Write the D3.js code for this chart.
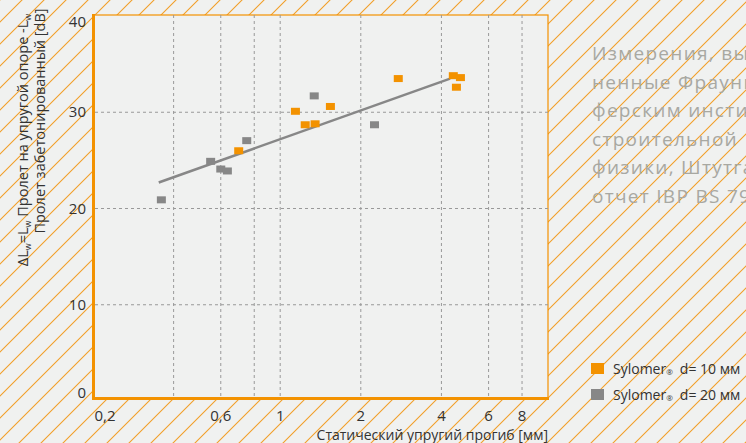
<!DOCTYPE html>
<html>
<head>
<meta charset="utf-8">
<script src="https://cdn.jsdelivr.net/npm/d3@7"></script>
<style>
  body { margin: 0; background: #f0f1f0; overflow: hidden; }
  svg { display: block; font-family: "Open Sans", sans-serif; }
</style>
</head>
<body>
<svg id="chart" width="746" height="443"></svg>
<script>
// data
var xTicks = [0.2, 0.6, 1, 2, 4, 6, 8];
var xGrid = [0.4, 0.6, 0.8, 1, 2, 4, 6, 8];
var xTickLabels = ["0,2", "0,6", "1", "2", "4", "6", "8"];
var yTicks = [0, 10, 20, 30, 40];
var d10x = [0.70, 1.14, 1.24, 1.35, 1.54, 2.76, 4.43, 4.71, 4.55];
var d10y = [26.0, 30.1, 28.7, 28.8, 30.6, 33.5, 33.8, 33.6, 32.6];
var d20x = [0.36, 0.55, 0.60, 0.635, 0.75, 1.34, 2.25];
var d20y = [20.9, 24.9, 24.1, 23.9, 27.05, 31.7, 28.7];
var trendX = [0.352, 4.31];
var trendY = [22.7, 33.5];
var legendLabels = ["d= 10 мм", "d= 20 мм"];
var noteLines = ["Измерения, выпол-", "ненные Фраунго-", "ферским институтом", "строительной", "физики, Штутгарт,", "отчет IBP BS 79/86"];

var orange = "#f39200", grey = "#878787";
var svg = d3.select("#chart");

// hatched background
var defs = svg.append("defs");
var pat = defs.append("pattern").attr("id", "hatch").attr("patternUnits", "userSpaceOnUse")
  .attr("width", 22).attr("height", 22);
pat.append("path").attr("d", "M-2,24 L24,-2 M-13,13 L13,-13 M9,35 L35,9")
  .attr("stroke", "#f2a02a").attr("stroke-width", 1.1).attr("fill", "none");
svg.append("rect").attr("width", 746).attr("height", 443).attr("fill", "url(#hatch)");

var x = d3.scaleLog().domain([0.2, 10]).range([93, 548]);
var y = d3.scaleLinear().domain([0, 40]).range([401, 16]);

// plot area
svg.append("rect").attr("x", 93).attr("y", 15).attr("width", 455).attr("height", 384)
  .attr("fill", "#f0f1f0").attr("stroke", orange).attr("stroke-width", 1.2);

// grid
svg.append("g").selectAll("line").data(xGrid).enter().append("line")
  .attr("x1", d => x(d)).attr("x2", d => x(d)).attr("y1", 15).attr("y2", 398)
  .attr("stroke", "#999").attr("stroke-dasharray", "3,3");
svg.append("g").selectAll("line").data([10, 20, 30]).enter().append("line")
  .attr("x1", 95).attr("x2", 548).attr("y1", d => y(d)).attr("y2", d => y(d))
  .attr("stroke", "#999").attr("stroke-dasharray", "3,3");

// thick left and bottom borders
svg.append("line").attr("x1", 93.5).attr("x2", 93.5).attr("y1", 14).attr("y2", 400)
  .attr("stroke", orange).attr("stroke-width", 3);
svg.append("line").attr("x1", 92).attr("x2", 549).attr("y1", 398.5).attr("y2", 398.5)
  .attr("stroke", orange).attr("stroke-width", 3);

// tick labels
svg.append("g").selectAll("text").data(yTicks).enter().append("text")
  .attr("x", 86).attr("y", d => y(d) + (d == 40 ? 11 : d == 0 ? -3 : 5))
  .attr("text-anchor", "end").attr("font-size", 15).attr("fill", "#333").text(d => d);
svg.append("g").selectAll("text").data(xTicks).enter().append("text")
  .attr("x", (d, i) => i == 0 ? x(d) + 12 : x(d)).attr("y", 421)
  .attr("text-anchor", "middle").attr("font-size", 15).attr("fill", "#333")
  .text((d, i) => xTickLabels[i]);

svg.append("text").attr("x", 548).attr("y", 440).attr("text-anchor", "end")
  .attr("font-size", 14).attr("fill", "#333").text("Статический упругий прогиб [мм]");

// y title
var t1 = svg.append("text").attr("transform", "translate(28,140) rotate(-90)")
  .attr("text-anchor", "middle").attr("font-size", 14.5).attr("fill", "#333");
t1.append("tspan").text("ΔL");
t1.append("tspan").attr("dy", 3).attr("font-size", 9).text("w");
t1.append("tspan").attr("dy", -3).text("=L");
t1.append("tspan").attr("dy", 3).attr("font-size", 9).text("w");
t1.append("tspan").attr("dy", -3).text(" Пролет на упругой опоре -L");
t1.append("tspan").attr("dy", 3).attr("font-size", 9).text("w");
svg.append("text").attr("transform", "translate(45,121) rotate(-90)")
  .attr("text-anchor", "middle").attr("font-size", 14.5).attr("fill", "#333")
  .text("Пролет забетонированный [dB]");

// trend line
svg.append("line").attr("x1", x(trendX[0])).attr("y1", y(trendY[0]))
  .attr("x2", x(trendX[1])).attr("y2", y(trendY[1]))
  .attr("stroke", grey).attr("stroke-width", 2.5);

// points
function drawPoints(xs, ys, col) {
  svg.append("g").selectAll("rect").data(xs).enter().append("rect")
    .attr("x", d => x(d) - 4.5).attr("y", (d, i) => y(ys[i]) - 3.5)
    .attr("width", 9).attr("height", 7).attr("fill", col);
}
drawPoints(d20x, d20y, grey);
drawPoints(d10x, d10y, orange);

// note text
svg.append("g").selectAll("text").data(noteLines).enter().append("text")
  .attr("x", 592).attr("y", (d, i) => 60 + i * 28.5)
  .attr("font-size", 19).attr("letter-spacing", 1.3).attr("fill", "#a8a8a2").text(d => d);

// legend
var lg = svg.append("g").selectAll("g").data(legendLabels).enter().append("g")
  .attr("transform", (d, i) => "translate(591," + (363 + i * 26) + ")");
lg.append("rect").attr("width", 13).attr("height", 11).attr("fill", (d, i) => i == 0 ? orange : grey);
var lt = lg.append("text").attr("x", 22).attr("y", 11).attr("font-size", 14).attr("fill", "#333");
lt.append("tspan").text("Sylomer");
lt.append("tspan").attr("font-size", 8).attr("dy", 1).text("®");
lt.append("tspan").attr("dy", -1).attr("dx", 7).text(d => d);
</script>
</body>
</html>
